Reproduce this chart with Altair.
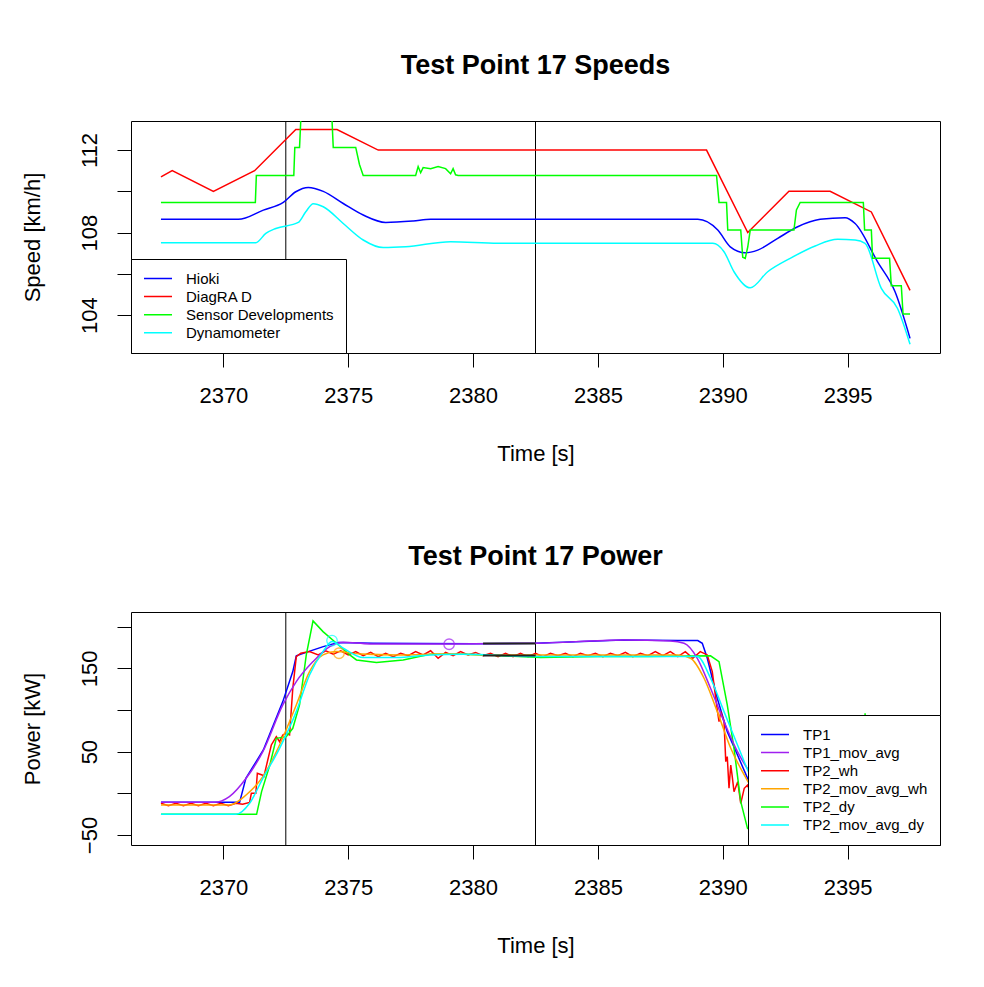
import altair as alt
import pandas as pd

# ---------------- Top panel: speeds ----------------
top_names = ["Hioki", "DiagRA D", "Sensor Developments", "Dynamometer"]
top_colors = ["#0000FF", "#FF0000", "#00FF00", "#00FFFF"]

hioki_t = [2367.5, 2370.6, 2371.6, 2372.4, 2372.9, 2373.4, 2374.0, 2374.8, 2375.6, 2376.5,
           2377.6, 2378.3, 2389.0, 2389.8, 2390.3, 2390.9, 2391.4, 2392.2, 2393.0, 2393.9,
           2394.9, 2395.3, 2396.2, 2396.9, 2397.5]
hioki_v = [108.64, 108.64, 109.09, 109.46, 109.98, 110.19, 110.0, 109.41, 108.85, 108.49,
           108.56, 108.64, 108.64, 108.12, 107.31, 107.02, 107.15, 107.72, 108.28, 108.64,
           108.72, 108.44, 106.58, 105.13, 102.87]

diag_t = [2367.5, 2367.95, 2369.6, 2371.25, 2372.9, 2374.55, 2376.2, 2389.35, 2391.0,
          2392.65, 2394.3, 2395.95, 2397.5]
diag_v = [110.7, 111.0, 110.0, 111.0, 113.0, 113.0, 112.0, 112.0, 108.0, 110.0, 110.0,
          109.0, 105.2]

sd_t = [2367.5, 2371.28, 2371.32, 2372.82, 2372.86, 2373.05, 2373.15, 2374.3, 2374.4,
        2375.3, 2375.45, 2375.6, 2377.7, 2377.8, 2377.9, 2378.0, 2378.3, 2378.6, 2378.9,
        2379.1, 2379.2, 2379.3, 2379.4, 2389.75, 2389.85, 2390.15, 2390.2, 2390.72,
        2390.8, 2390.9, 2391.0, 2391.1, 2392.85, 2392.95, 2393.1, 2395.63, 2395.68,
        2395.95, 2396.0, 2396.68, 2396.75, 2397.15, 2397.22, 2397.5]
sd_v = [109.46, 109.46, 110.77, 110.77, 112.13, 112.13, 114.8, 114.8, 112.13,
        112.13, 111.3, 110.77, 110.77, 111.2, 110.9, 111.15, 111.1, 111.2, 111.1,
        110.85, 111.1, 110.8, 110.77, 110.77, 109.46, 109.46, 108.12, 108.12,
        106.8, 106.75, 107.3, 108.12, 108.12, 109.1, 109.46, 109.46, 108.12,
        108.12, 106.75, 106.75, 105.42, 105.42, 104.05, 104.05]

dyn_t = [2367.5, 2371.3, 2371.7, 2372.1, 2373.0, 2373.3, 2373.6, 2374.0, 2374.8, 2375.6,
         2376.4, 2377.3, 2379.1, 2381.0, 2389.6, 2390.05, 2390.45, 2391.1, 2391.8,
         2392.7, 2393.7, 2394.6, 2395.3, 2395.7, 2396.35, 2397.0, 2397.5]
dyn_v = [107.51, 107.51, 107.96, 108.2, 108.49, 109.01, 109.4, 109.25, 108.44, 107.64,
         107.27, 107.31, 107.56, 107.48, 107.48, 107.07, 106.1, 105.32, 106.1,
         106.75, 107.35, 107.67, 107.64, 107.48, 105.29, 104.32, 102.58]

# ---------------- Bottom panel: power ----------------
bot_names = ["TP1", "TP1_mov_avg", "TP2_wh", "TP2_mov_avg_wh", "TP2_dy", "TP2_mov_avg_dy"]
bot_colors = ["#0000FF", "#A020F0", "#FF0000", "#FFA500", "#00FF00", "#00FFFF"]

tp1_t = [2367.5, 2370.65, 2370.9, 2371.6, 2372.38, 2372.78, 2372.92, 2373.4, 2374.0,
         2374.6, 2376.0, 2380.0, 2382.5, 2386.0, 2388.2, 2389.0, 2389.18, 2389.38,
         2389.78, 2390.18, 2390.59, 2391.05, 2391.6, 2392.5, 2394.0, 2395.5, 2397.5]
tp1_v = [-10.8, -10.8, 18, 52, 110, 146, 165, 170, 176,
         181, 180, 179.5, 180, 184, 183.2, 183.2, 180, 162,
         114, 74, 46, 14, -5, -12, -10, -8, -10]

ma1_t = [2367.5, 2369.64, 2370.24, 2370.91, 2371.58, 2372.38, 2372.92, 2373.59, 2374.26,
         2374.8, 2375.87, 2379.08, 2382.5, 2386.04, 2387.9, 2388.45, 2388.98, 2389.51,
         2390.05, 2390.59, 2391.05, 2391.8, 2393.0, 2395.0, 2397.5]
ma1_v = [-10.8, -10.8, -4, 18, 50, 106, 134, 158, 176,
         181.2, 179.2, 179.2, 180, 184, 182.8, 180, 162, 126,
         86, 50, 27, 5, -8, -9, -9]

wh_t = [2367.5, 2367.8, 2368.1, 2368.4, 2368.7, 2369.0, 2369.3, 2369.6, 2369.9, 2370.2,
        2370.5, 2370.77, 2371.05, 2371.12, 2371.3, 2371.36, 2371.55, 2371.62, 2371.92,
        2372.12, 2372.25, 2372.38, 2372.5, 2372.65, 2372.78, 2372.92, 2373.1,
        2373.45, 2373.8, 2374.1, 2374.4, 2374.7, 2375.0, 2375.3, 2375.6, 2375.9, 2376.2,
        2376.5, 2376.8, 2377.1, 2377.4, 2377.7, 2378.0, 2378.3, 2378.6, 2378.9, 2379.2,
        2379.5, 2379.8, 2380.1, 2380.4, 2380.7, 2381.0, 2381.3, 2381.6, 2381.9, 2382.2,
        2382.5, 2382.8, 2383.1, 2383.4, 2383.7, 2384.0, 2384.3, 2384.6, 2384.9, 2385.2,
        2385.5, 2385.8, 2386.1, 2386.4, 2386.7, 2387.0, 2387.3, 2387.6, 2387.9, 2388.2,
        2388.5, 2388.8, 2389.1, 2389.38, 2389.58, 2389.78, 2389.85, 2389.92, 2390.05,
        2390.12, 2390.18, 2390.25, 2390.32, 2390.38, 2390.45, 2390.6, 2390.72, 2390.86,
        2391.0, 2391.3, 2392.0, 2393.0, 2395.0, 2397.5]
wh_v = [-12, -15, -12, -15, -12, -15, -12, -15, -12, -15,
        -12, -13, -11, 0, 0, 24, 22, 20, 58,
        68, 62, 70, 72, 70, 126, 164, 168,
        170, 166, 171, 167, 171, 166, 170, 165, 169, 164,
        168, 164, 168, 165, 170, 166, 171, 162, 169, 165,
        170, 166, 169, 165, 168, 164, 168, 164, 168, 164,
        168, 164, 168, 165, 168, 164, 168, 165, 168, 164,
        168, 165, 169, 164, 168, 165, 170, 165, 170, 164,
        170, 162, 170, 166, 146, 100, 86, 98, 86,
        38, 44, 6, 34, 20, 2, 14, -12, 6,
        10, -20, -15, -14, -12, -13]

mwh_t = [2367.5, 2370.24, 2370.91, 2371.58, 2372.25, 2372.92, 2373.45, 2373.99, 2374.53,
         2375.5, 2377.0, 2379.0, 2381.0, 2383.0, 2385.0, 2387.0, 2388.2, 2388.71,
         2389.25, 2389.78, 2390.32, 2390.86, 2391.09, 2392.0, 2394.0, 2397.5]
mwh_v = [-14, -14, -2, 20, 58, 106, 146, 166, 170,
         167, 166, 167, 166, 166, 166, 166, 166, 162,
         138, 98, 54, 22, 10, -10, -13, -13]

dy_t = [2367.5, 2371.33, 2371.53, 2371.86, 2372.12, 2372.52, 2372.78, 2373.05, 2373.32,
        2373.59, 2373.99, 2374.53, 2375.06, 2375.33, 2376.13, 2377.2, 2378.27, 2379.61,
        2380.95, 2382.7, 2385.0, 2387.0, 2389.51, 2389.85, 2390.18, 2390.45, 2390.72,
        2390.99, 2391.3, 2392.5, 2394.0, 2395.6, 2395.7, 2395.8, 2397.5]
dy_v = [-25.2, -25.2, 2, 34, 66, 68, 78, 106, 166,
        206.8, 194, 180, 166, 160, 157, 160, 166.8, 166.8,
        165.2, 162.8, 164, 164, 165, 158, 106, 54, -10,
        -42, -48, -30, -20, -22, 96, -22, -25]

mdy_t = [2367.5, 2370.51, 2371.05, 2371.58, 2372.25, 2372.92, 2373.45, 2373.99, 2374.35,
         2374.8, 2375.6, 2376.93, 2378.27, 2379.61, 2382.7, 2385.0, 2388.98, 2389.51,
         2390.05, 2390.59, 2391.09, 2392.0, 2394.0, 2397.5]
mdy_v = [-25.2, -25.2, -12, 18, 54, 98, 142, 170, 182,
         174, 162.8, 162.8, 166, 166.8, 164, 164, 164, 138,
         98, 58, 22, -15, -22, -24]

# marked points (open circles)
circle_t = [2379.04, 2374.35, 2374.63]
circle_v = [178.8, 183.2, 168.0]
circle_c = ["#A020F0", "#00FFFF", "#FFA500"]

# black mean segments
mean_t = [2380.4, 2382.5, 2380.4, 2382.5]
mean_v = [179.6, 179.6, 165.2, 165.2]
mean_g = ["a", "a", "b", "b"]

# window markers
window_t = [2372.5, 2382.5]

x_ticks = [2370, 2375, 2380, 2385, 2390, 2395]


def long_df(pairs, field):
    rows = []
    for name, ts, vs in pairs:
        for t, v in zip(ts, vs):
            rows.append({"t": t, "v": v, field: name})
    return pd.DataFrame(rows)


FONT = "Liberation Sans"
xscale = alt.Scale(domain=[2366.3, 2398.7], nice=False, zero=False)
x_axis = alt.Axis(values=x_ticks, format="d", title="Time [s]", tickSize=14, labelPadding=18,
                  labelFlush=False, titleY=107, titleBaseline="alphabetic")


def legend(orient):
    return alt.Legend(title=None, orient=orient, offset=0, direction="vertical",
                      fillColor="white", strokeColor="black", padding=12,
                      symbolType="stroke", symbolSize=784, symbolStrokeWidth=1.5,
                      labelFontSize=15, labelOffset=13, rowPadding=2.1, clipHeight=15,
                      labelFont=FONT, labelColor="black")


def title(text):
    return alt.TitleParams(text, fontSize=27, font=FONT, fontWeight="bold",
                           anchor="middle", offset=20, baseline="alphabetic",
                           color="black")


# ---- top chart ----
top_smooth = long_df([("Hioki", hioki_t, hioki_v), ("Dynamometer", dyn_t, dyn_v)], "speed_src")
top_lin = long_df([("DiagRA D", diag_t, diag_v), ("Sensor Developments", sd_t, sd_v)], "speed_src")
ytop = alt.Scale(domain=[102.16, 113.41], nice=False, zero=False)
ytop_axis = alt.Axis(values=[104, 106, 108, 110, 112],
                     labelExpr="datum.value % 4 == 0 ? datum.label : ''",
                     labelAngle=270, labelAlign="center", labelBaseline="bottom",
                     tickSize=14, labelPadding=16, title="Speed [km/h]",
                     titleX=-92, titleY=116, titleBaseline="alphabetic", titleAngle=270)
top_color = alt.Color("speed_src:N", scale=alt.Scale(domain=top_names, range=top_colors),
                      legend=legend("bottom-left"))

vl_df = pd.DataFrame({"t": window_t})
top_rules = alt.Chart(vl_df).mark_rule(color="black", strokeWidth=1).encode(
    x=alt.X("t:Q", scale=xscale, axis=x_axis))
top_l1 = alt.Chart(top_smooth).mark_line(clip=True, strokeWidth=1.5, interpolate="monotone").encode(
    x=alt.X("t:Q", scale=xscale, axis=x_axis),
    y=alt.Y("v:Q", scale=ytop, axis=ytop_axis),
    color=top_color)
top_l2 = alt.Chart(top_lin).mark_line(clip=True, strokeWidth=1.5).encode(
    x=alt.X("t:Q", scale=xscale, axis=x_axis),
    y=alt.Y("v:Q", scale=ytop, axis=ytop_axis),
    color=top_color)

top = alt.layer(top_rules, top_l1, top_l2).properties(
    width=809, height=232, title=title("Test Point 17 Speeds"))

# ---- bottom chart ----
bot_smooth = long_df([("TP1_mov_avg", ma1_t, ma1_v), ("TP2_mov_avg_wh", mwh_t, mwh_v),
                      ("TP2_mov_avg_dy", mdy_t, mdy_v)], "power_src")
bot_lin = long_df([("TP1", tp1_t, tp1_v), ("TP2_wh", wh_t, wh_v), ("TP2_dy", dy_t, dy_v)], "power_src")
ybot = alt.Scale(domain=[-62.0, 217.5], nice=False, zero=False)
ybot_axis = alt.Axis(values=[-50, 0, 50, 100, 150, 200],
                     labelExpr="(datum.value + 50) % 100 == 0 ? datum.label : ''",
                     labelAngle=270, labelAlign="center", labelBaseline="bottom",
                     tickSize=14, labelPadding=16, title="Power [kW]",
                     titleX=-92, titleY=116.5, titleBaseline="alphabetic", titleAngle=270)
bot_color = alt.Color("power_src:N", scale=alt.Scale(domain=bot_names, range=bot_colors),
                      legend=legend("bottom-right"))

bot_rules = alt.Chart(vl_df).mark_rule(color="black", strokeWidth=1).encode(
    x=alt.X("t:Q", scale=xscale, axis=x_axis))
bot_l1 = alt.Chart(bot_lin).mark_line(clip=True, strokeWidth=1.5).encode(
    x=alt.X("t:Q", scale=xscale, axis=x_axis),
    y=alt.Y("v:Q", scale=ybot, axis=ybot_axis),
    color=bot_color)
bot_l2 = alt.Chart(bot_smooth).mark_line(clip=True, strokeWidth=1.5, interpolate="monotone").encode(
    x=alt.X("t:Q", scale=xscale, axis=x_axis),
    y=alt.Y("v:Q", scale=ybot, axis=ybot_axis),
    color=bot_color)
mean_df = pd.DataFrame({"t": mean_t, "v": mean_v, "g": mean_g})
bot_mean = alt.Chart(mean_df).mark_line(color="#222222", strokeWidth=2).encode(
    x=alt.X("t:Q", scale=xscale, axis=x_axis),
    y=alt.Y("v:Q", scale=ybot, axis=ybot_axis),
    detail="g:N")
circ_df = pd.DataFrame({"t": circle_t, "v": circle_v, "c": circle_c})
bot_circ = alt.Chart(circ_df).mark_point(shape="circle", filled=False, size=110,
                                         strokeWidth=1.3).encode(
    x=alt.X("t:Q", scale=xscale, axis=x_axis),
    y=alt.Y("v:Q", scale=ybot, axis=ybot_axis),
    stroke=alt.Stroke("c:N", scale=None))

bottom = alt.layer(bot_rules, bot_l1, bot_l2, bot_mean, bot_circ).properties(
    width=809, height=233, title=title("Test Point 17 Power"))

chart = alt.vconcat(top, bottom, spacing=259, bounds="flush").resolve_scale(
    color="independent", x="independent", y="independent"
).resolve_legend(color="independent").properties(
    padding={"left": 12, "top": 43, "right": 10, "bottom": 10},
    background="white"
).configure_view(
    stroke="black", strokeWidth=1
).configure_axis(
    grid=False, domain=False, tickColor="black", labelColor="black", titleColor="black",
    labelFont=FONT, titleFont=FONT, labelFontSize=22, titleFontSize=22,
    titleFontWeight="normal", tickWidth=1
)

chart.save("out.html", embed_options={"renderer": "svg", "actions": False})
